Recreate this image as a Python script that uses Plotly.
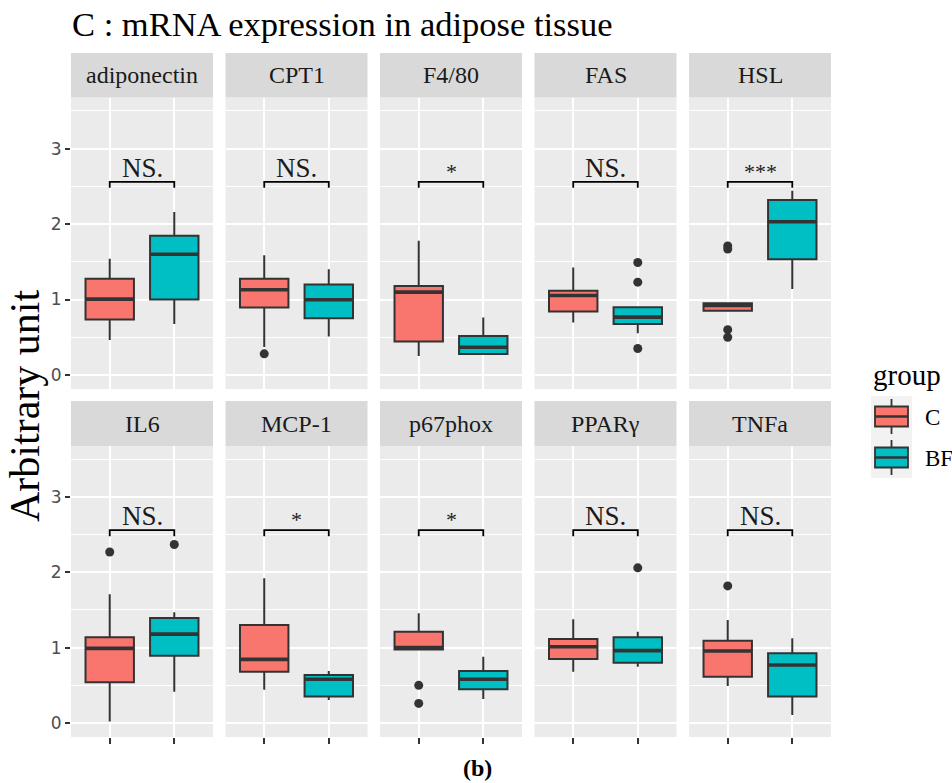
import plotly.graph_objects as go

# ---- data -------------------------------------------------------------
genes = ["adiponectin", "CPT1", "F4/80", "FAS", "HSL",
         "IL6", "MCP-1", "p67phox", "PPARγ", "TNFa"]
groups = ["C", "BF"]
group_colors = ["#F8766D", "#00BFC4"]

# box statistics for group C
c_lower = [0.465, 0.37, 0.25, 0.695, 0.84, 0.02, 0.44, 0.97, 0.68, 0.49]
c_q1 = [0.735, 0.894, 0.443, 0.841, 0.85, 0.54, 0.68, 0.975, 0.85, 0.615]
c_median = [1.005, 1.129, 1.098, 1.053, 0.92, 0.99, 0.845, 1.0, 1.013, 0.956]
c_q3 = [1.275, 1.275, 1.178, 1.115, 0.95, 1.138, 1.30, 1.212, 1.115, 1.093]
c_upper = [1.54, 1.585, 1.78, 1.425, 0.96, 1.71, 1.92, 1.457, 1.377, 1.368]
c_outliers = [[], [0.28], [], [], [1.71, 1.67, 0.60, 0.50],
              [2.27], [], [0.50, 0.26], [], [1.82]]

# box statistics for group BF
bf_lower = [0.677, 0.51, 0.27, 0.553, 1.14, 0.416, 0.305, 0.32, 0.747, 0.106]
bf_q1 = [1.0, 0.753, 0.279, 0.677, 1.535, 0.894, 0.35, 0.447, 0.80, 0.35]
bf_median = [1.60, 0.996, 0.367, 0.766, 2.03, 1.18, 0.58, 0.58, 0.96, 0.77]
bf_q3 = [1.846, 1.20, 0.518, 0.899, 2.32, 1.394, 0.637, 0.69, 1.138, 0.925]
bf_upper = [2.16, 1.40, 0.762, 0.91, 2.44, 1.47, 0.69, 0.88, 1.212, 1.125]
bf_outliers = [[], [], [], [1.49, 1.23, 0.35], [], [2.37], [], [], [2.06], []]

signif = ["NS.", "NS.", "*", "NS.", "***", "NS.", "*", "*", "NS.", "NS."]
bracket_y = 2.56
bracket_tip = 0.08

y_ticks = [0, 1, 2, 3]
y_minor = [0.5, 1.5, 2.5, 3.5]

# ---- layout geometry (pixels) ----------------------------------------
W, H = 952, 783
panel_left = [71, 225.5, 380, 534.5, 689]
panel_w = 142
rows = [  # (strip top, strip bottom / panel top, panel bottom)
    (53, 97.5, 389),
    (401, 446, 737),
]
y_range = [-0.186, 3.677]
box_w = 0.75
line_col = "#333333"
serif = "Liberation Serif"


def px(x):
    return x / W


def py(y):
    return 1 - y / H


fig = go.Figure()
layout = dict(
    width=W, height=H,
    margin=dict(l=0, r=0, t=0, b=0),
    paper_bgcolor="white",
    plot_bgcolor="#EBEBEB",
    showlegend=False,
    shapes=[],
    annotations=[],
)

stats = [
    (c_lower, c_q1, c_median, c_q3, c_upper, c_outliers),
    (bf_lower, bf_q1, bf_median, bf_q3, bf_upper, bf_outliers),
]

for i, gene in enumerate(genes):
    r, c = divmod(i, 5)
    sfx = "" if i == 0 else str(i + 1)
    xa, ya = "x" + sfx, "y" + sfx
    x0 = panel_left[c]
    x1 = x0 + panel_w
    s_top, p_top, p_bot = rows[r]

    layout["xaxis" + sfx] = dict(
        domain=[px(x0), px(x1)], range=[0.4, 2.6], anchor=ya,
        tickvals=[1, 2], ticktext=["", ""],
        showgrid=True, gridcolor="white", gridwidth=1.6,
        zeroline=False, showline=False,
        ticks="outside" if r == 1 else "", ticklen=6, tickwidth=1.5,
        tickcolor=line_col, fixedrange=True,
    )
    layout["yaxis" + sfx] = dict(
        domain=[py(p_bot), py(p_top)], range=y_range, anchor=xa,
        tickvals=y_ticks, showticklabels=(c == 0),
        tickfont=dict(family="DejaVu Sans", size=17, color="#4D4D4D"),
        ticks="outside" if c == 0 else "", ticklen=5, tickwidth=1.5,
        tickcolor=line_col,
        showgrid=True, gridcolor="white", gridwidth=1.6,
        minor=dict(tickvals=y_minor, showgrid=True, gridcolor="white",
                   gridwidth=1.0, ticks=""),
        zeroline=False, showline=False, fixedrange=True,
    )

    # strip
    layout["shapes"].append(dict(
        type="rect", xref="paper", yref="paper",
        x0=px(x0), x1=px(x1), y0=py(p_top), y1=py(s_top),
        fillcolor="#D9D9D9", line=dict(width=0), layer="below",
    ))
    layout["annotations"].append(dict(
        text=gene, xref="paper", yref="paper",
        x=px((x0 + x1) / 2), y=py((s_top + p_top) / 2),
        xanchor="center", yanchor="middle", showarrow=False,
        font=dict(family=serif, size=24, color="#1A1A1A"),
    ))

    for g, (lo, q1, md, q3, up, outl) in enumerate(stats):
        pos = g + 1
        fig.add_trace(go.Box(
            x=[pos], q1=[q1[i]], median=[md[i]], q3=[q3[i]],
            lowerfence=[lo[i]], upperfence=[up[i]],
            width=box_w, whiskerwidth=0, boxpoints=False,
            fillcolor=group_colors[g], line=dict(color=line_col, width=2),
            xaxis=xa, yaxis=ya, name=groups[g], hoverinfo="skip",
        ))
        # heavier median bar
        fig.add_trace(go.Scatter(
            x=[pos - box_w / 2, pos + box_w / 2], y=[md[i], md[i]],
            mode="lines", line=dict(color=line_col, width=3.6),
            xaxis=xa, yaxis=ya, hoverinfo="skip",
        ))
        if outl[i]:
            fig.add_trace(go.Scatter(
                x=[pos] * len(outl[i]), y=outl[i], mode="markers",
                marker=dict(color=line_col, size=9),
                xaxis=xa, yaxis=ya, hoverinfo="skip",
            ))

    # significance bracket
    fig.add_trace(go.Scatter(
        x=[1, 1, 2, 2],
        y=[bracket_y - bracket_tip, bracket_y, bracket_y, bracket_y - bracket_tip],
        mode="lines", line=dict(color="black", width=1.8),
        xaxis=xa, yaxis=ya, hoverinfo="skip",
    ))
    star = signif[i].startswith("*")
    layout["annotations"].append(dict(
        text=signif[i], xref=xa, yref=ya, x=1.5, y=bracket_y,
        xanchor="center", yanchor="bottom", showarrow=False,
        yshift=-3 if not star else -4,
        font=dict(family=serif, size=27 if not star else 22, color="#1A1A1A"),
    ))

# title, axis title, caption
layout["annotations"] += [
    dict(text="C : mRNA expression in adipose tissue", xref="paper", yref="paper",
         x=px(70), y=py(24), xanchor="left", yanchor="middle", showarrow=False,
         font=dict(family=serif, size=34.5, color="black")),
    dict(text="Arbitrary unit", xref="paper", yref="paper",
         x=px(25), y=py(406), xanchor="center", yanchor="middle", showarrow=False,
         textangle=-90, font=dict(family=serif, size=42, color="black")),
    dict(text="<b>(b)</b>", xref="paper", yref="paper",
         x=px(477), y=0, xanchor="center", yanchor="bottom", showarrow=False,
         font=dict(family=serif, size=24, color="black")),
    dict(text="group", xref="paper", yref="paper",
         x=px(871), y=py(375), xanchor="left", yanchor="middle", showarrow=False,
         font=dict(family=serif, size=29, color="black")),
]

# legend keys
key_left, key_right = 871, 912
key_tops = [396, 437]
key_h = 41
layout["shapes"].append(dict(
    type="rect", xref="paper", yref="paper",
    x0=px(key_left), x1=px(key_right), y0=py(key_tops[0] + 2 * key_h), y1=py(key_tops[0]),
    fillcolor="#F2F2F2", line=dict(width=0), layer="below",
))
for g, name in enumerate(groups):
    top = key_tops[g]
    cx = (key_left + key_right) / 2
    cy = top + key_h / 2
    layout["shapes"] += [
        dict(type="line", xref="paper", yref="paper",
             x0=px(cx), x1=px(cx), y0=py(top + 3), y1=py(top + key_h - 3),
             line=dict(color=line_col, width=1.8)),
        dict(type="rect", xref="paper", yref="paper",
             x0=px(key_left + 4), x1=px(key_right - 4), y0=py(cy + 10), y1=py(cy - 10),
             fillcolor=group_colors[g], line=dict(color=line_col, width=1.8)),
        dict(type="line", xref="paper", yref="paper",
             x0=px(key_left + 4), x1=px(key_right - 4), y0=py(cy), y1=py(cy),
             line=dict(color=line_col, width=2.5)),
    ]
    layout["annotations"].append(dict(
        text=name, xref="paper", yref="paper",
        x=px(923), y=py(cy + 1), xanchor="left", yanchor="middle", showarrow=False,
        font=dict(family=serif, size=23, color="black"),
    ))

fig.update_layout(**layout)
fig.write_html("out.html")
